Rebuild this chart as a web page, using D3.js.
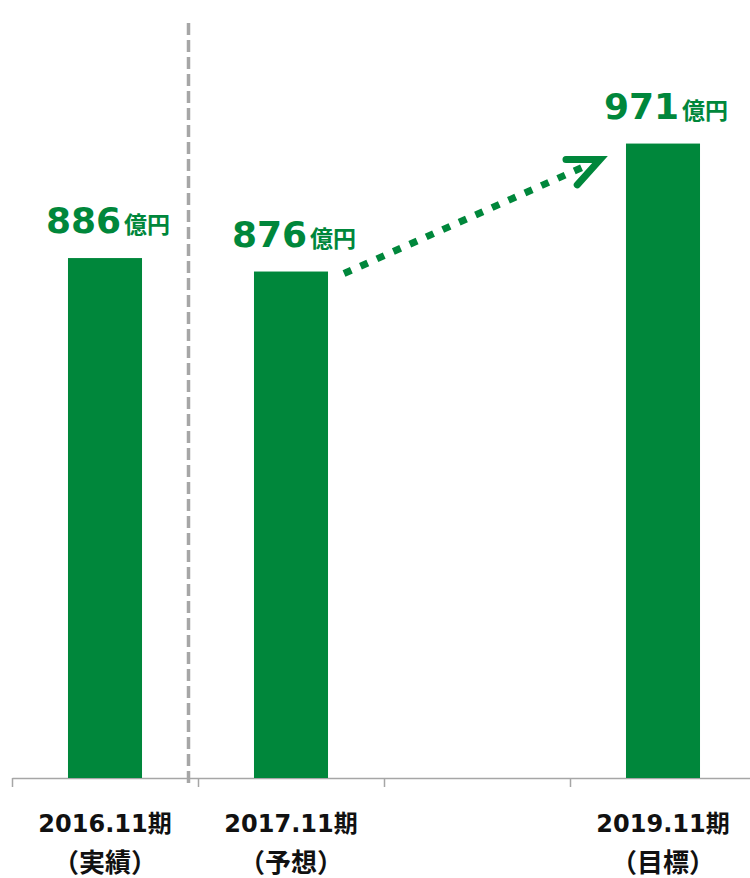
<!DOCTYPE html>
<html>
<head>
<meta charset="utf-8">
<script src="https://cdn.jsdelivr.net/npm/d3@7"></script>
<style>
	html, body { margin: 0; padding: 0; background: #fff; }
	svg { display: block; }
	text { font-family: 'DejaVu Sans', 'Noto Sans CJK JP', sans-serif; font-weight: bold; }
</style>
</head>
<body>
<svg id="chart" width="750" height="878"></svg>
<script>

// categories (the third slot is intentionally empty)
var catYear = ['2016.11期', '2017.11期', '', '2019.11期'];
var catNote = ['（実績）', '（予想）', '', '（目標）'];
var sales = [886, 876, null, 971];
var unit = '億円';

var GREEN = '#00873b';
var GRAY = '#a6a6a6';

var svg = d3.select('#chart');

var left = 12, right = 756, baseY = 778;

var xEdge = d3.scaleLinear().domain([0, catYear.length]).range([left, right]);
var x = d3.scaleBand().domain(d3.range(catYear.length)).range([left, right]).paddingInner(0.602).paddingOuter(0.301);
var y = d3.scaleLinear().domain([500, 1000]).range([baseY, baseY - 500 * 1.347]);

// axis
var axis = svg.append('g')
	.attr('transform', 'translate(0,' + baseY + ')')
	.call(d3.axisBottom(xEdge).tickValues(d3.range(catYear.length + 1)).tickSize(9).tickSizeOuter(0).tickFormat(''));
axis.selectAll('path, line').attr('stroke', GRAY).attr('stroke-width', 1.5);

// bars
var data = sales.map(function(v, i) { return { i: i, v: v }; }).filter(function(d) { return d.v !== null; });

svg.append('g').selectAll('rect')
	.data(data)
	.join('rect')
	.attr('x', function(d) { return x(d.i); })
	.attr('y', function(d) { return y(d.v); })
	.attr('width', x.bandwidth())
	.attr('height', function(d) { return baseY - y(d.v); })
	.attr('fill', GREEN);

// value labels
var lbl = svg.append('g').selectAll('text')
	.data(data)
	.join('text')
	.attr('x', function(d) { return x(d.i) + x.bandwidth() / 2 + 3; })
	.attr('y', function(d) { return y(d.v) - 25; })
	.attr('text-anchor', 'middle')
	.attr('fill', GREEN);
lbl.append('tspan').attr('font-size', 36).text(function(d) { return d.v; });
lbl.append('tspan').attr('font-size', 23).attr('dx', 3).text(unit);

// category labels
var cat = svg.append('g').selectAll('text')
	.data(d3.range(catYear.length))
	.join('text')
	.attr('text-anchor', 'middle')
	.attr('fill', '#111');
cat.append('tspan').attr('font-size', 24).attr('x', function(i) { return x(i) + x.bandwidth() / 2; }).attr('y', 832).text(function(i) { return catYear[i]; });
cat.append('tspan').attr('font-size', 26).attr('x', function(i) { return x(i) + x.bandwidth() / 2; }).attr('y', 872).text(function(i) { return catNote[i]; });

// actual / forecast separator
var sepX = xEdge(1) - 9.5;
svg.append('line')
	.attr('x1', sepX).attr('x2', sepX)
	.attr('y1', 23).attr('y2', 783)
	.attr('stroke', GRAY)
	.attr('stroke-width', 3.5)
	.attr('stroke-dasharray', '12 5');

// growth arrow from 2017 to 2019
var x0 = x(1) + x.bandwidth() + 16, y0 = y(sales[1]) + 2;
var x1 = x(3) - 26, y1 = y(sales[3]) + 16;
var ang = Math.atan2(y1 - y0, x1 - x0);
var len = Math.hypot(x1 - x0, y1 - y0);

svg.append('line')
	.attr('x1', x0).attr('y1', y0)
	.attr('x2', x0 + Math.cos(ang) * (len - 14)).attr('y2', y0 + Math.sin(ang) * (len - 14))
	.attr('stroke', GREEN)
	.attr('stroke-width', 7)
	.attr('stroke-dasharray', '8 10');

var head = d3.path();
var arm = 34, spread = 24 * Math.PI / 180;
head.moveTo(x1 - Math.cos(ang - spread) * arm, y1 - Math.sin(ang - spread) * arm);
head.lineTo(x1, y1);
head.lineTo(x1 - Math.cos(ang + spread) * arm, y1 - Math.sin(ang + spread) * arm);
svg.append('path')
	.attr('d', head.toString())
	.attr('fill', 'none')
	.attr('stroke', GREEN)
	.attr('stroke-width', 7)
	.attr('stroke-linecap', 'round')
	.attr('stroke-linejoin', 'miter');

</script>
</body>
</html>
